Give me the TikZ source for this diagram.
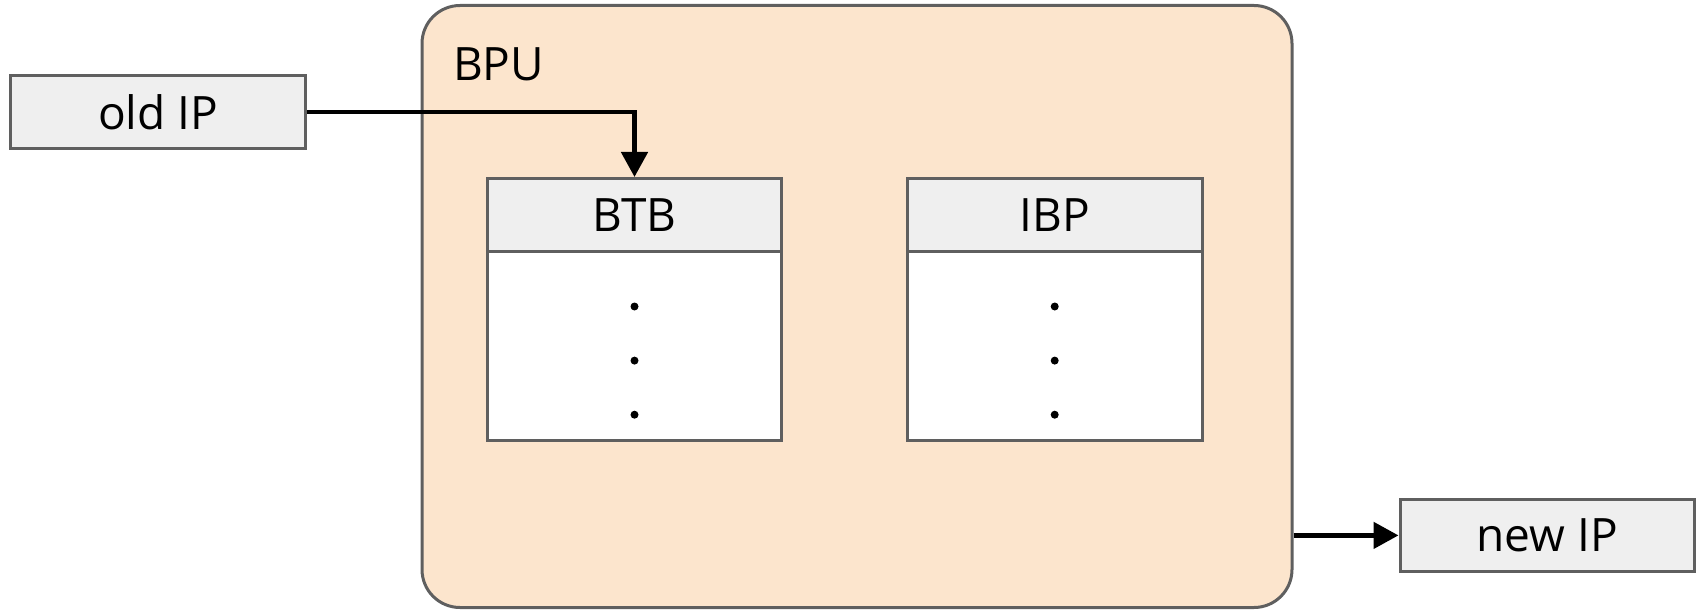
\documentclass[tikz,border=0pt]{standalone}
\usepackage{fontspec}
\setmainfont{Open Sans}
\usetikzlibrary{arrows.meta}
\definecolor{bpufill}{HTML}{FCE5CD}
\definecolor{boxfill}{HTML}{EFEFEF}
\definecolor{boxline}{HTML}{5F5F5F}
\tikzset{
  ipbox/.style={draw=boxline, fill=boxfill, line width=1.5pt, minimum width=147.4pt, minimum height=36.3pt, inner sep=0pt},
  tblbody/.style={draw=boxline, fill=white, line width=1.5pt, minimum width=147.4pt, minimum height=94.9pt, inner sep=0pt},
  flow/.style={line width=2.4pt, -{Triangle[length=12.5pt,width=13pt]}}
}
\begin{document}
\begin{tikzpicture}[x=0.5pt, y=-0.5pt, font=\fontsize{23}{27}\selectfont]
			\useasboundingbox (0,0) rectangle (1698,610);
			
			% outer unit
			\node[draw=boxline, fill=bpufill, line width=1.5pt, rounded corners=19pt, minimum width=435pt, minimum height=301pt] (bpu) at (857,306.5) {};
			\node[anchor=base west] (bpulabel) at (446,81) {BPU};
			
			% tables
			\node[tblbody] (btbbody) at (634.5,345.9) {};
			\node[ipbox] (btb) at (634.5,214.8) {BTB};
			\node[tblbody] (ibpbody) at (1054.7,345.9) {};
			\node[ipbox] (ibp) at (1054.7,214.8) {IBP};
			\foreach \y in {306.5,360.6,414.7} {
				\fill (634.5,\y) circle [radius=2pt];
				\fill (1054.7,\y) circle [radius=2pt];
			}
			
			% in and out
			\node[ipbox] (oldip) at (158.1,112.1) {old IP};
			\node[ipbox] (newip) at (1547.4,535.4) {new IP};
			
			\draw[flow] (oldip.east) -| (btb.north);
			\draw[flow] (bpu.east |- newip.west) -- (newip.west);
			
			\end{tikzpicture}
\end{document}
